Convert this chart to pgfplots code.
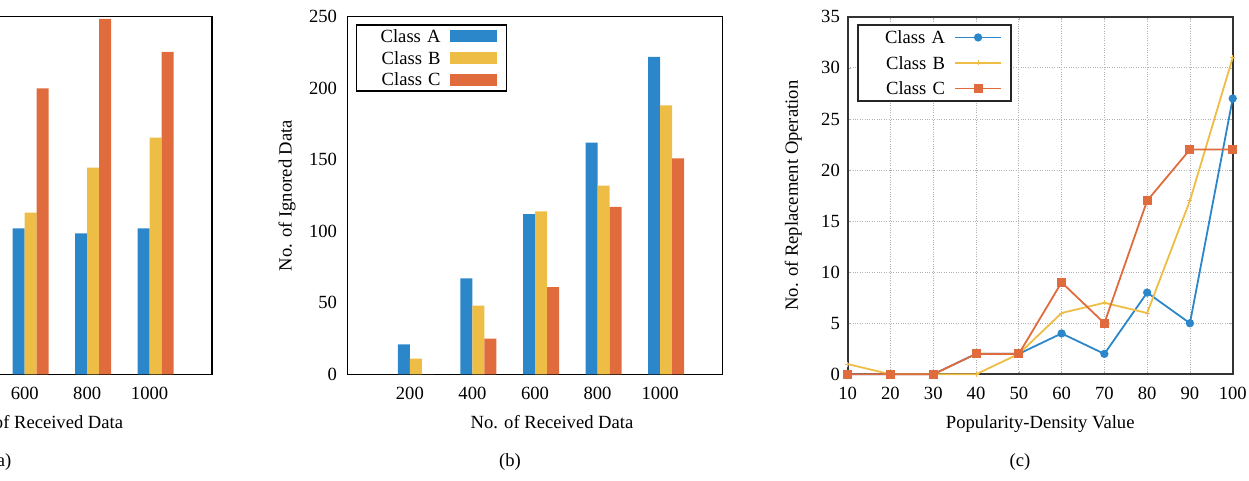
\documentclass[border=0pt]{standalone}
\usepackage{fontspec}
\setmainfont{Liberation Serif}
\usepackage{pgfplots}
\pgfplotsset{compat=1.18}
\definecolor{cA}{RGB}{44,134,202}
\definecolor{cB}{RGB}{238,189,70}
\definecolor{cC}{RGB}{224,108,62}
\pgfplotsset{
  barstyle/.style={
    scale only axis, height=357.5pt,
    xmin=0, xmax=1200, xtick={200,400,600,800,1000},
    major tick length=0pt,
    axis line style={line width=1.4pt},
    /pgf/number format/assume math mode=true,
    /pgf/number format/1000 sep={},
    x tick label style={yshift=-6pt},
    y tick label style={xshift=-4pt},
    xlabel style={at={(axis description cs:0.5,0)}, anchor=base, yshift=-54.2pt, xshift=17pt},
    ylabel style={at={(axis description cs:0,0.5)}, anchor=center, yshift=60.3pt},
    legend image code/.code={\fill[##1] (0pt,-6pt) rectangle (47.3pt,6pt);},
    legend plot pos=right,
    legend style={at={(0,1)}, anchor=north west, xshift=8.7pt, yshift=-7.6pt,
      draw=black, line width=1.2pt, inner xsep=9.4pt, inner ysep=5pt,
      row sep=9.2pt, column sep=9.3pt,
      nodes={inner sep=0pt, text height=12.5pt, text depth=0pt, text width=74.6pt, align=right}},
  },
}
\begin{document}
\fontsize{18.6}{22}\selectfont
\begin{tikzpicture}
\useasboundingbox (0pt,0pt) rectangle (1249pt,480pt);
\clip (0pt,0pt) rectangle (1249pt,480pt);

% (a)
\begin{axis}[barstyle, at={(-162.5pt,105.7pt)}, anchor=south west, width=374.5pt,
  ymin=0, ymax=50, xlabel={No. of Received Data}, ylabel={No. of Data}]
\addplot[ybar, bar width=12pt, bar shift=-6pt, fill=cA, draw=none] coordinates {(600,20.4) (800,19.7) (1000,20.4)};
\addplot[ybar, bar width=12pt, bar shift=6pt, fill=cB, draw=none] coordinates {(600,22.6) (800,28.9) (1000,33.1)};
\addplot[ybar, bar width=12pt, bar shift=18pt, fill=cC, draw=none] coordinates {(600,40.0) (800,49.7) (1000,45.1)};
\end{axis}

% (b)
\begin{axis}[barstyle, at={(347.3pt,105.7pt)}, anchor=south west, width=375.4pt,
  ymin=0, ymax=250, ytick={0,50,100,150,200,250},
  xlabel={No. of Received Data}, ylabel={No. of Ignored Data}]
\addplot[ybar, bar width=12pt, bar shift=-6pt, fill=cA, draw=none] coordinates {(200,21) (400,67) (600,112) (800,162) (1000,222)};
\addplot[ybar, bar width=12pt, bar shift=6pt, fill=cB, draw=none] coordinates {(200,11) (400,48) (600,114) (800,132) (1000,188)};
\addplot[ybar, bar width=12pt, bar shift=18pt, fill=cC, draw=none] coordinates {(200,0) (400,25) (600,61) (800,117) (1000,151)};
\legend{Class A, Class B, Class C}
\end{axis}

% (c)
\begin{axis}[scale only axis, at={(847.7pt,105.7pt)}, anchor=south west, width=385pt, height=357.5pt,
  xmin=10, xmax=100, ymin=0, ymax=35,
  xtick={10,20,...,100}, ytick={0,5,...,35},
  grid=major, grid style={dotted, gray!60, line width=0.8pt},
  major tick length=3pt, tick style={gray!60, line width=0.6pt},
  axis line style={line width=2pt, draw=black!80},
  clip=false,
  /pgf/number format/assume math mode=true,
  x tick label style={yshift=-6pt},
  y tick label style={xshift=-1.5pt},
  xlabel={Popularity-Density Value}, ylabel={No. of Replacement Operation},
  xlabel style={at={(axis description cs:0.5,0)}, anchor=base, yshift=-54.2pt},
  ylabel style={at={(axis description cs:0,0.5)}, anchor=center, yshift=54.4pt},
  legend image code/.code={\draw[#1, mark repeat=2, mark phase=2] plot coordinates {(0pt,0pt) (22.8pt,0pt) (45.6pt,0pt)};},
  legend plot pos=right,
  legend style={at={(0,1)}, anchor=north west, xshift=9pt, yshift=-7.5pt,
    draw=black!85, line width=1.8pt, inner xsep=9.4pt, inner ysep=6pt,
    row sep=13pt, column sep=9.4pt,
    nodes={inner sep=0pt, text height=12.5pt, text depth=0pt, text width=78pt, align=right}},
]
\addplot[cA, line width=1.8pt, mark=*, mark size=3.2pt] coordinates {(10,0) (20,0) (30,0) (40,2) (50,2) (60,4) (70,2) (80,8) (90,5) (100,27)};
\addplot[cB, line width=1.8pt, mark=+, mark size=2.5pt, mark options={line width=1pt}] coordinates {(10,1) (20,0) (30,0) (40,0) (50,2) (60,6) (70,7) (80,6) (90,17) (100,31)};
\addplot[cC, line width=1.8pt, mark=square*, mark size=3.6pt] coordinates {(10,0) (20,0) (30,0) (40,2) (50,2) (60,9) (70,5) (80,17) (90,22) (100,22)};
\legend{Class A, Class B, Class C}
\end{axis}

\node at (1pt,18pt) {(a)};
\node at (510pt,18pt) {(b)};
\node at (1020pt,18pt) {(c)};
\end{tikzpicture}
\end{document}
